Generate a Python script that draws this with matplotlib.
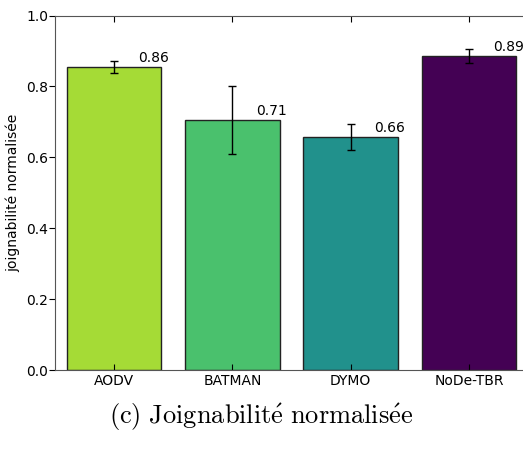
import matplotlib
matplotlib.use("Agg")
import matplotlib.pyplot as plt
import numpy as np

protocols = ["AODV", "BATMAN", "DYMO", "NoDe-TBR"]
reach = [0.855, 0.705, 0.657, 0.887]
reach_err = [0.016, 0.095, 0.036, 0.020]
labels = ["0.86", "0.71", "0.66", "0.89"]
colors = ["#a5db36", "#4ac16d", "#21918c", "#440154"]

plt.rcParams["mathtext.fontset"] = "cm"

fig = plt.figure(figsize=(5.23, 4.58), dpi=100)
ax = fig.add_axes([0.105, 0.192, 0.905, 0.774])

x = np.arange(len(protocols))
ax.bar(x, reach, width=0.8, color=colors, edgecolor="#222222", linewidth=1,
       yerr=reach_err, capsize=3,
       error_kw=dict(ecolor="black", elinewidth=1, capthick=1))

for i, (h, lab) in enumerate(zip(reach, labels)):
    ax.text(i + 0.2, h + 0.006, lab, ha="left", va="bottom", fontsize=10)

ax.set_xlim(-0.5, 3.5)
ax.set_ylim(0, 1.0)
ax.set_xticks(x)
ax.set_xticklabels(protocols, fontsize=10)
ax.set_yticks([0.0, 0.2, 0.4, 0.6, 0.8, 1.0])
ax.set_yticklabels(["0.0", "0.2", "0.4", "0.6", "0.8", "1.0"], fontsize=10)
ax.tick_params(axis="x", direction="in", top=True, bottom=True, length=4, pad=3)
ax.tick_params(axis="y", direction="out", left=True, right=False, length=4, pad=1)
ax.set_ylabel("joignabilité normalisée", fontsize=10, labelpad=4)
for sp in ax.spines.values():
    sp.set_color("#555555")

# caption under the panel
fig.text(0.5, 0.088,
         r"$\mathrm{(c)\ Joignabilit\acute{e}\ normalis\acute{e}e}$",
         ha="center", va="center", fontsize=19)

fig.savefig("out.png", dpi=100)
